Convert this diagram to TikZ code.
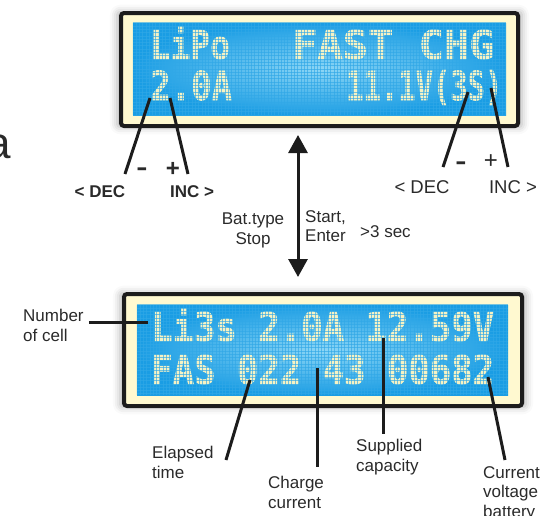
\documentclass[tikz,border=0pt]{standalone}
\usepackage{fontspec}
\usepackage{graphicx}
\usetikzlibrary{positioning,calc,arrows.meta,shadows.blur}
\newfontfamily\labelfont{Liberation Sans}
\newfontfamily\lcdfont{DejaVu Sans Mono}[BoldFeatures={FakeBold=1.5}]

\definecolor{framedark}{HTML}{1C1C1C}
\definecolor{framecream}{HTML}{FFF9D0}
\definecolor{screenblue}{HTML}{1A9DE4}
\definecolor{screenlight}{HTML}{8DD6F5}
\definecolor{lcdcream}{HTML}{F5F2C4}
\definecolor{labelgray}{HTML}{2A2A2A}

\tikzset{
    lcdframe/.style={draw=framedark, line width=4pt, fill=framecream,
        rounded corners=3pt, inner sep=0pt,
        blur shadow={shadow xshift=0pt, shadow yshift=0pt,
            shadow blur radius=7pt, shadow opacity=30, shadow scale=1.02}},
    lcdscreen/.style={inner sep=0pt, inner color=screenlight, outer color=screenblue},
    lcdtext/.style={font=\lcdfont\bfseries\fontsize{40}{40}\selectfont,
        text=lcdcream, inner sep=0pt, anchor=base west},
    lcdgrid/.style={draw=screenblue!80!screenlight, line width=1pt, opacity=0.65},
    callout/.style={font=\labelfont\fontsize{17}{19.5}\selectfont,
        text=labelgray, inner sep=0pt},
    keylabel/.style={font=\labelfont\bfseries\fontsize{17}{19.5}\selectfont,
        text=labelgray, inner sep=0pt, anchor=base},
    keysign/.style={font=\labelfont\bfseries\fontsize{24}{24}\selectfont,
        text=labelgray, inner sep=0pt, anchor=base},
    pointer/.style={draw=framedark, line width=3pt},
}

\begin{document}
\begin{tikzpicture}[x=1pt, y=-1pt]
    \useasboundingbox (0,0) rectangle (547,515);

    % displays
    \node[lcdframe, minimum width=397pt, minimum height=113pt] (toplcd) at (319.5,69.5) {};
    \node[lcdscreen, minimum width=373pt, minimum height=92pt] (topscreen) at (319.5,69) {};
    \node[lcdframe, minimum width=398pt, minimum height=112pt] (botlcd) at (323,350) {};
    \node[lcdscreen, minimum width=371pt, minimum height=90pt] (botscreen) at (322.5,350) {};

    \node[lcdtext] (battype) at (150,59) {\scalebox{0.83}[1]{LiPo}};
    \node[lcdtext] (chgmode) at (292,59) {\scalebox{1.05}[1]{FAST CHG}};
    \node[lcdtext] (setcurrent) at (150,100) {\scalebox{0.85}[1]{2.0A}};
    \node[lcdtext] (setvoltage) at (346,100) {\scalebox{0.72}[1]{11.1V(3S)}};
    \node[lcdtext] (statusrow) at (151,341) {\scalebox{0.89}[1]{Li3s 2.0A 12.59V}};
    \node[lcdtext] (progressrow) at (151,384) {\scalebox{0.89}[1]{FAS 022 43 00682}};

    % dot matrix
    \foreach \scr in {topscreen,botscreen}{
        \begin{scope}
            \clip (\scr.south west) rectangle (\scr.north east);
            \foreach \k in {0,...,115}
                \draw[lcdgrid] ($(\scr.north west)+(\k*3.3,0)$) -- ($(\scr.south west)+(\k*3.3,0)$);
            \foreach \k in {0,...,30}
                \draw[lcdgrid] ($(\scr.north west)+(0,\k*3.3)$) -- ($(\scr.north east)+(0,\k*3.3)$);
        \end{scope}
    }

    \node[callout, font=\labelfont\fontsize{44}{44}\selectfont, anchor=base west] (cuta) at (-14,158) {a};

    % keys under the first display
    \node[keylabel] (decleft) at (100,197) {< DEC};
    \node[keylabel] (incleft) at (192,197) {INC >};
    \node[keysign] (minusleft) at (142,175) {\scalebox{1.4}[1]{-}};
    \node[keysign] (plusleft) at (173,176) {+};
    \node[callout, font=\labelfont\fontsize{18.5}{20}\selectfont, anchor=base] (decright) at (422,193) {< DEC};
    \node[callout, font=\labelfont\fontsize{18.5}{20}\selectfont, anchor=base] (incright) at (513,193) {INC >};
    \node[keysign] (minusright) at (461,169) {\scalebox{1.4}[1]{-}};
    \node[keysign, font=\labelfont\fontsize{24}{24}\selectfont] (plusright) at (491,168) {+};

    \coordinate (amppt) at (150,98);
    \coordinate (ampend) at (125,174);
    \coordinate (amppt2) at (170,98);
    \coordinate (ampend2) at (188,174);
    \coordinate (voltpt) at (468,92);
    \coordinate (voltend) at (443,167);
    \coordinate (voltpt2) at (491,88);
    \coordinate (voltend2) at (508,167);
    \draw[pointer] (amppt) -- (ampend);
    \draw[pointer] (amppt2) -- (ampend2);
    \draw[pointer] (voltpt) -- (voltend);
    \draw[pointer] (voltpt2) -- (voltend2);

    % mode change
    \coordinate (modeup) at (298,135);
    \coordinate (modedown) at (298,277);
    \draw[pointer, {Triangle[width=19pt,length=18pt]}-{Triangle[width=19pt,length=18pt]}] (modeup) -- (modedown);
    \node[callout, anchor=north, align=center] (stopkey) at (253,213) {Bat.type\\Stop};
    \node[callout, anchor=north west, align=left] (startkey) at (305,210) {Start,\\Enter};
    \node[callout, anchor=north west] (holdtime) at (360,225) {>3 sec};

    % readings of the second display
    \node[callout, anchor=north west, align=left] (cellcount) at (23,309) {Number\\of cell};
    \node[callout, anchor=north west, align=left] (elapsed) at (152,446) {Elapsed\\time};
    \node[callout, anchor=north west, align=left] (chgcurrent) at (268,476) {Charge\\current};
    \node[callout, anchor=north west, align=left] (capacity) at (356,439) {Supplied\\capacity};
    \node[callout, anchor=north west, align=left] (battvolt) at (483,466) {Current\\voltage\\battery};

    \coordinate (cellpt) at (148,322);
    \coordinate (timept) at (250,380);
    \coordinate (timeend) at (226,460);
    \coordinate (currpt) at (317,368);
    \coordinate (currend) at (317,467);
    \coordinate (cappt) at (383,338);
    \coordinate (capend) at (383,434);
    \coordinate (voltnow) at (488,377);
    \coordinate (voltnowend) at (505,460);
    \draw[pointer] ([xshift=5pt]cellcount.east |- cellpt) -- (cellpt);
    \draw[pointer] (timept) -- (timeend);
    \draw[pointer] (currpt) -- (currend);
    \draw[pointer] (cappt) -- (capend);
    \draw[pointer] (voltnow) -- (voltnowend);
\end{tikzpicture}
\end{document}
